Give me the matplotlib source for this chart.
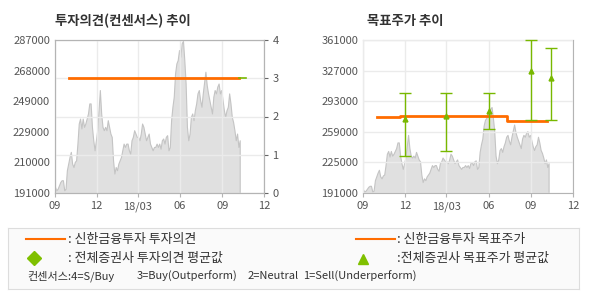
import numpy as np
import pandas as pd
import matplotlib
matplotlib.use("Agg")
import matplotlib.pyplot as plt

plt.rcParams['font.family'] = ['Noto Sans CJK KR', 'DejaVu Sans']

# stock price, Sep 2017 - Oct 2018
prices = [194800, 192700, 193700, 195800, 197900, 199000, 199000, 192700, 193700, 205300,
          209400, 213600, 216800, 209400, 207300, 210500, 211500, 222000, 234600, 237700,
          231500, 237700, 232500, 234600, 237700, 240900, 247200, 247200, 232500, 224100,
          217800, 224100, 230400, 243000, 255600, 240900, 232500, 230400, 232500, 230400,
          236700, 232500, 228300, 226200, 211500, 203200, 207300, 205300, 209400, 211500,
          213600, 217800, 222000, 219900, 222000, 222000, 217800, 215700, 224100, 226200,
          230400, 228300, 226200, 226200, 224100, 228300, 234600, 232500, 228300, 224100,
          226200, 228300, 222000, 219900, 217800, 219900, 219900, 222000, 219900, 222000,
          218800, 224100, 225200, 222000, 226200, 227300, 217800, 219900, 236700, 245100,
          251400, 266000, 272300, 274400, 280700, 276500, 284900, 286500, 274400, 259700,
          232500, 224100, 228300, 238800, 240900, 236700, 243000, 247200, 253500, 255600,
          249300, 245100, 253500, 260400, 267100, 258700, 253500, 249300, 245100, 240900,
          251400, 255600, 253500, 257700, 259700, 253500, 255600, 249300, 243000, 238800,
          243000, 245100, 253500, 247200, 238800, 235500, 230400, 224100, 228300, 219900,
          224100]
price_dates = pd.date_range('2017-09-01', '2018-10-09', periods=len(prices))

# consensus (shinhan) and broker average
opinion_dates = pd.to_datetime(['2017-10-01', '2018-10-07'])
opinion_vals = [3, 3]
avg_opinion_dates = pd.to_datetime(['2018-10-07', '2018-10-22'])
avg_opinion_vals = [3, 3]

# target price (shinhan)
target_dates = pd.to_datetime(['2017-10-02', '2017-11-20', '2018-07-11', '2018-10-06'])
target_vals = [275000, 276000, 271000, 271000]

# broker target price: average, high, low
band_dates = pd.to_datetime(['2017-12-01', '2018-03-01', '2018-06-01', '2018-09-01', '2018-10-15'])
band_avg = [273000, 277000, 282000, 327000, 319000]
band_high = [302000, 302000, 302000, 361000, 352000]
band_low = [232000, 238000, 262000, 272000, 272000]

xtick_dates = pd.to_datetime(['2017-09-01', '2017-12-01', '2018-03-01',
                              '2018-06-01', '2018-09-01', '2018-12-01'])
xtick_labels = ['09', '12', '18/03', '06', '09', '12']
left_yticks = [191000, 210200, 229400, 248600, 267800, 287000]
left_ylabels = ['191000', '210000', '229000', '249000', '268000', '287000']
right_yticks = [191000, 225000, 259000, 293000, 327000, 361000]

orange = '#ff6c00'
green = '#78b800'
spine_c = '#b4b4b4'
grid_c = '#ebebeb'
label_c = '#555555'

fig = plt.figure(figsize=(5.9, 3), dpi=100)


def style(ax):
    for s in ax.spines.values():
        s.set_color(spine_c)
    ax.tick_params(colors=label_c, labelsize=8, length=0)
    ax.tick_params(axis='x', length=3, color=spine_c, pad=3)


def draw_price(ax, ymin, ymax):
    ax.fill_between(price_dates, prices, ymin, facecolor='#e0e0e0',
                    edgecolor='#c4c4c4', lw=0.8, zorder=1)
    ax.set_ylim(ymin, ymax)
    ax.set_xlim(xtick_dates[0], xtick_dates[-1])
    ax.set_xticks(xtick_dates)
    ax.set_xticklabels(xtick_labels)
    ax.set_axisbelow(False)


# ---- left: opinion chart
ax1 = fig.add_axes([55 / 590, 107 / 300, 209 / 590, 153 / 300])
draw_price(ax1, 191000, 287000)
ax1.set_yticks(left_yticks)
ax1.set_yticklabels(left_ylabels)
ax1.grid(axis='x', color=grid_c, lw=1)
style(ax1)

ax1r = ax1.twinx()
ax1r.set_ylim(0, 4)
ax1r.set_yticks([0, 1, 2, 3, 4])
ax1r.grid(axis='y', color=grid_c, lw=1, zorder=0)
ax1r.plot(opinion_dates, opinion_vals, color=orange, lw=2, zorder=3)
ax1r.plot(avg_opinion_dates, avg_opinion_vals, color=green, lw=1.2, zorder=3)
style(ax1r)
ax1r.tick_params(axis='y', length=3, color='#666666', pad=3)

fig.text(55 / 590, 1 - 21 / 300, '투자의견(컨센서스) 추이', fontsize=9.6,
         fontweight='bold', color='#333333', va='center')

# ---- right: target price chart
ax3 = fig.add_axes([363 / 590, 107 / 300, 210 / 590, 153 / 300])
draw_price(ax3, 191000, 361000)
ax3.set_yticks(right_yticks)
ax3.grid(color=grid_c, lw=1)
style(ax3)
ax3.step(target_dates, target_vals, where='post', color=orange, lw=2, zorder=3)
avg = np.array(band_avg)
ax3.errorbar(band_dates, avg, yerr=[avg - np.array(band_low), np.array(band_high) - avg],
             fmt='^', ms=3.5, color=green, ecolor=green, elinewidth=1, capsize=4,
             capthick=1, zorder=4, clip_on=False)

fig.text(367 / 590, 1 - 21 / 300, '목표주가 추이', fontsize=9.6,
         fontweight='bold', color='#333333', va='center')

# ---- legend box
lg = fig.add_axes([8 / 590, 11 / 300, 571 / 590, 61 / 300])
lg.set_xlim(0, 571)
lg.set_ylim(61, 0)
lg.set_xticks([])
lg.set_yticks([])
lg.set_facecolor('#fafafa')
for s in lg.spines.values():
    s.set_color('#dddddd')

txt = dict(fontsize=9.3, color='#333333', va='center')
lg.plot([18, 57], [11, 11], color=orange, lw=1.5)
lg.text(60, 11, ': 신한금융투자 투자의견', **txt)
lg.plot([26], [30], marker='D', ms=7, color='#7fc000', ls='none')
lg.text(60, 30, ': 전체증권사 투자의견 평균값', **txt)
lg.plot([348, 387], [11, 11], color=orange, lw=1.5)
lg.text(389, 11, ': 신한금융투자 목표주가', **txt)
lg.plot([355], [31], marker='^', ms=7, color='#7fc000', ls='none')
lg.text(389, 30, ':전체증권사 목표주가 평균값', **txt)

small = dict(fontsize=8, color='#333333', va='center')
lg.text(19, 48, '컨센서스:4=S/Buy', **small)
lg.text(129, 48, '3=Buy(Outperform)', **small)
lg.text(240, 48, '2=Neutral', **small)
lg.text(295, 48, '1=Sell(Underperform)', **small)

fig.savefig('out.png', dpi=100, facecolor='white')
